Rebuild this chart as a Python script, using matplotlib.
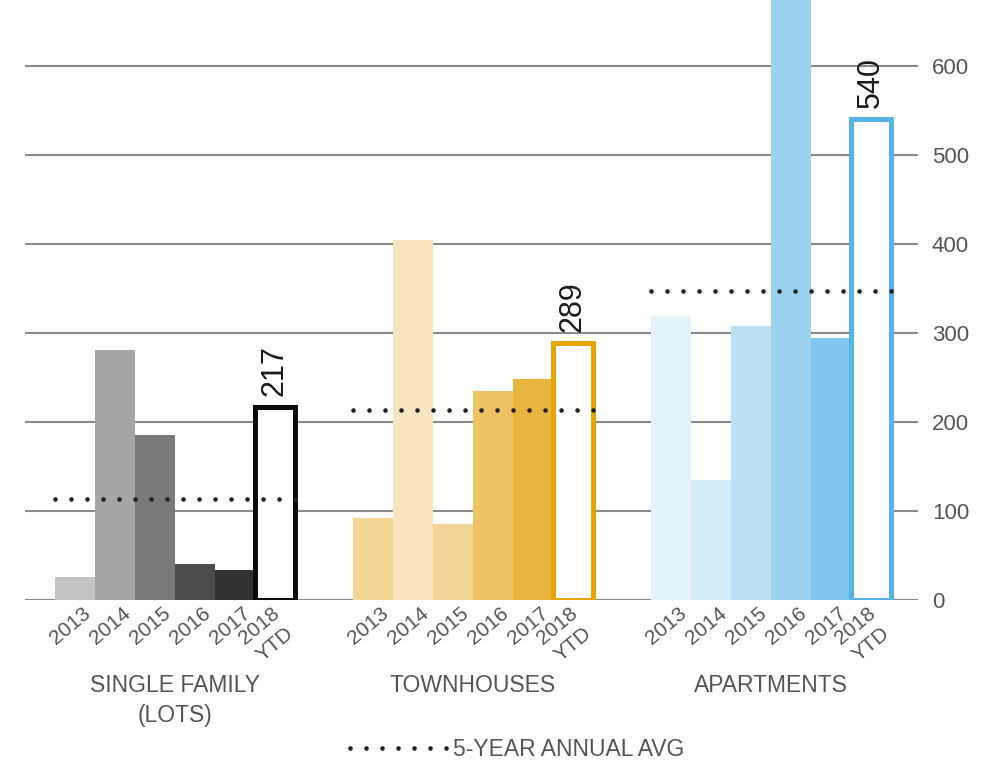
import matplotlib
matplotlib.use("Agg")
import matplotlib.pyplot as plt
from matplotlib.lines import Line2D

plt.rcParams['font.family'] = ['Liberation Sans', 'DejaVu Sans']

# ---- data -------------------------------------------------------------
years = ['2013', '2014', '2015', '2016', '2017', '2018\nYTD']
categories = ['SINGLE FAMILY\n(LOTS)', 'TOWNHOUSES', 'APARTMENTS']
single_family = [26, 281, 185, 40, 34, 217]
townhouses = [92, 404, 85, 235, 248, 289]
apartments = [319, 135, 308, 678, 294, 540]
five_year_avg = [113, 213, 347]
y_ticks = [0, 100, 200, 300, 400, 500, 600]

# ---- styling ------------------------------------------------------------
fill_colors = [
    ['#c4c3c3', '#a6a5a5', '#7a7978', '#4d4c4b', '#333232'],
    ['#f3d596', '#f8e5bf', '#f3d598', '#eec265', '#e9b541'],
    ['#e4f2fa', '#d4ebf8', '#bce0f4', '#9bd2ef', '#80c6ec'],
]
outline_colors = ['#0a0a0a', '#e8a400', '#56b4e9']
tick_gray = '#555555'
grid_gray = '#8a8a8a'
dot_color = '#222222'

series = [single_family, townhouses, apartments]
group_stride = 7.45          # bar widths between the starts of two groups

fig = plt.figure(figsize=(9.86, 7.61), dpi=100)
ax = fig.add_axes([25 / 986, 1 - 600 / 761, (918 - 25) / 986, 600 / 761])
ax.set_xlim(-0.75, 21.575)
ax.set_ylim(0, 600 / 0.89)

for spine in ax.spines.values():
    spine.set_visible(False)

ax.set_yticks(y_ticks)
ax.yaxis.tick_right()
ax.tick_params(axis='y', length=0, pad=10, labelsize=16, labelcolor=tick_gray)
ax.set_xticks([])
ax.yaxis.grid(True, color=grid_gray, linewidth=1.5)
ax.set_axisbelow(True)

dot_lw = 3.4
dot_dashes = (0.001, 11.52 / dot_lw)   # one dot every 16 px

for g, values in enumerate(series):
    start = g * group_stride
    lefts = [start + i for i in range(len(values))]

    # historical years as solid bars
    ax.bar(lefts[:-1], values[:-1], width=1.0, align='edge',
           color=fill_colors[g], linewidth=0, zorder=2)

    # year-to-date as an outlined bar
    ax.bar(lefts[-1], values[-1], width=1.0, align='edge',
           facecolor='white', edgecolor=outline_colors[g],
           linewidth=3.6, zorder=3)
    ax.annotate(str(values[-1]), xy=(lefts[-1] + 0.5, values[-1]),
                xytext=(0, 8), textcoords='offset points',
                rotation=90, ha='center', va='bottom',
                fontsize=22, color='#1a1a1a', zorder=5)

    # 5-year average as a dotted line across the group
    ax.plot([start, start + len(values) + 0.02], [five_year_avg[g]] * 2,
            color=dot_color, linewidth=dot_lw, dashes=dot_dashes,
            dash_capstyle='round', solid_capstyle='round', zorder=4)

    # rotated year labels under each bar
    for i, yr in enumerate(years):
        offset = (10, -20) if '\n' in yr else (13, -11)
        ax.annotate(yr, xy=(lefts[i] + 0.5, 0), xycoords=('data', 'axes fraction'),
                    xytext=offset, textcoords='offset pixels',
                    rotation=40, rotation_mode='anchor',
                    ha='right', va='center', multialignment='center',
                    fontsize=15, color=tick_gray, linespacing=1.3)

    # group title
    ax.annotate(categories[g], xy=(start + len(values) / 2, 0),
                xycoords=('data', 'axes fraction'),
                xytext=(0, -74), textcoords='offset pixels',
                ha='center', va='top', fontsize=16.5, color=tick_gray,
                linespacing=1.4)

handle = Line2D([], [], color=dot_color, linewidth=dot_lw, dashes=dot_dashes,
                dash_capstyle='round')
fig.legend([handle], ['5-YEAR ANNUAL AVG'], loc='center',
           bbox_to_anchor=(517 / 986, 1 - 750 / 761), frameon=False,
           handlelength=4.3, handletextpad=0.2, fontsize=16.5,
           labelcolor=tick_gray)

fig.savefig('out.png', dpi=100, facecolor='white')
